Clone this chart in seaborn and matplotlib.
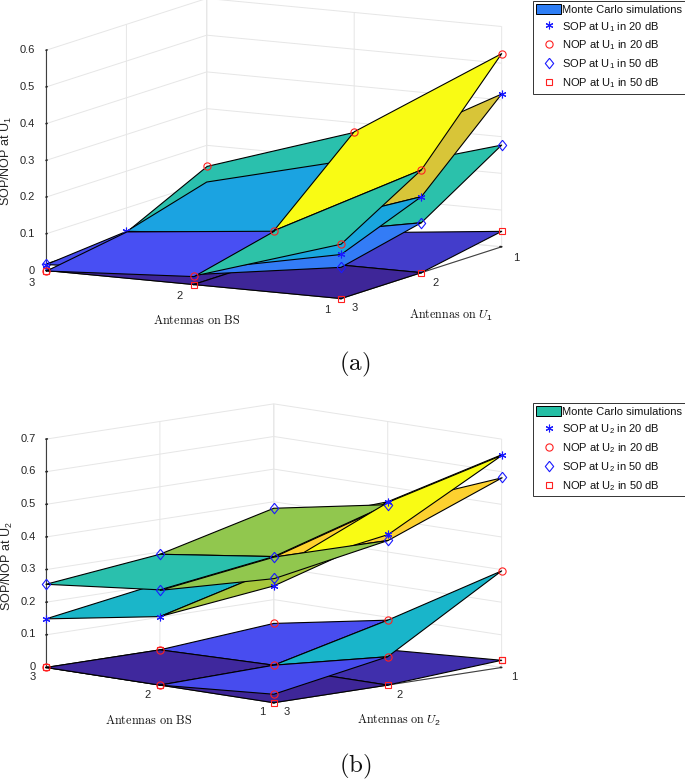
import numpy as np
import matplotlib
matplotlib.use("Agg")
import matplotlib.pyplot as plt
from matplotlib.lines import Line2D
from matplotlib.patches import Patch
import seaborn as sns

sns.set_theme(style="white")
plt.rcParams["font.family"] = ["Liberation Sans", "DejaVu Sans"]
plt.rcParams["mathtext.default"] = "regular"
plt.rcParams["grid.color"] = "#e6e6e6"
plt.rcParams["grid.linewidth"] = 0.7

BS = [1, 2, 3]
USERS = [1, 2, 3]
PARULA = ["#3e2698", "#484ff4", "#2e87f7", "#12b1d6", "#37c897", "#abc739", "#fec338", "#f9fb14"]

# rows: antennas on BS 1,2,3; columns: antennas on user 1,2,3
A_NOP20 = [[.526, .280, .148], [.275, .076, .023], [.144, .036, .000]]
A_SOP20 = [[.416, .207, .120], [.200, .070, .039], [.100, .036, .016]]
A_SOP50 = [[.277, .136, .085], [.160, .061, .027], [.079, .018, .018]]
A_NOP50 = [[.042, .000, .000], [.000, .000, .000], [.000, .000, .000]]

B_NOP20 = [[.296, .087, .026], [.091, .007, .000], [.027, .000, .000]]
B_SOP20 = [[.652, .463, .358], [.454, .300, .210], [.330, .204, .149]]
B_SOP50 = [[.583, .445, .382], [.445, .340, .292], [.380, .293, .255]]
B_NOP50 = [[.022, .000, .000], [.000, .000, .000], [.000, .000, .000]]

ZTICKS_A = [0, .1, .2, .3, .4, .5, .6]
ZTICKS_B = [0, .1, .2, .3, .4, .5, .6, .7]
ZLABELS_A = ["0", "0.1", "0.2", "0.3", "0.4", "0.5", "0.6"]
ZLABELS_B = ["0", "0.1", "0.2", "0.3", "0.4", "0.5", "0.6", "0.7"]

W, H = 685, 780
cmap = sns.blend_palette(PARULA, n_colors=256, as_cmap=True)
STAR = (6, 2, 0)
THIN_DIAMOND = [(0, 1), (.8, 0), (0, -1), (-.8, 0), (0, 1)]
STYLES = {
    "SOP20": dict(marker=STAR, color="#1a1aff", ms=5.5, mew=0.8, mfc="none"),
    "NOP20": dict(marker="o", color="#ff2020", ms=5.2, mew=0.8, mfc="none"),
    "SOP50": dict(marker=THIN_DIAMOND, color="#1a1aff", ms=7.5, mew=0.8, mfc="none"),
    "NOP50": dict(marker="s", color="#ff2020", ms=4.5, mew=0.8, mfc="none"),
}
ALL = (0, 3, 0, 3)


class Panel:
    def __init__(self, x0, bottom, size, az, el, aspect, zmax, zticks, top_value):
        ax = fig.add_axes([x0 / W, 1 - bottom / H, size / W, size / H], projection="3d",
                          proj_type="ortho", computed_zorder=False)
        ax.patch.set_alpha(0)
        ax.view_init(elev=el, azim=az)
        ax.set_box_aspect(aspect)
        ax.set_xlim(1, 3, view_margin=0)
        ax.set_ylim(1, 3, view_margin=0)
        ax.set_zlim(0, zmax, view_margin=0)
        ax.set_xticks(BS)
        ax.set_yticks(USERS)
        ax.set_zticks(zticks)
        ax.set_xticklabels([])
        ax.set_yticklabels([])
        ax.set_zticklabels([])
        for axis in (ax.xaxis, ax.yaxis, ax.zaxis):
            axis.set_pane_color((1, 1, 1, 0))
            axis.pane.set_edgecolor("#e6e6e6")
            axis.pane.set_linewidth(0.7)
            axis.line.set_color("#404040")
            axis.line.set_linewidth(0.8)
            axis._axinfo["tick"].update(inward_factor=0.0, outward_factor=0.07)
        ax.tick_params(colors="#262626")
        ax.zaxis.set_ticks_position("upper")
        self.ax = ax
        self.X, self.Y = np.meshgrid(BS, USERS, indexing="ij")
        self.norm = plt.Normalize(0, top_value)
        self.z = 2

    def surface(self, values, part=ALL):
        r0, r1, c0, c1 = part
        Z = np.array(values)[r0:r1, c0:c1]
        self.ax.plot_surface(self.X[r0:r1, c0:c1], self.Y[r0:r1, c0:c1], Z,
                             facecolors=cmap(self.norm(Z[:-1, :-1])), rstride=1, cstride=1,
                             shade=False, edgecolor="black", linewidth=0.8, zorder=self.z)
        self.z += 1

    def marks(self, name, values, keep=None):
        Z = np.array(values)
        mask = np.ones(Z.shape, bool) if keep is None else np.zeros(Z.shape, bool)
        if keep is not None:
            for rc in keep:
                mask[rc] = True
        self.ax.plot(self.X[mask], self.Y[mask], Z[mask], ls="none", zorder=self.z, **STYLES[name])
        self.z += 1


fig = plt.figure(figsize=(W / 100, H / 100), dpi=100, facecolor="white")

a = Panel(12, 410.4, 510, 118.5, 10.08, (336, 337, 224), 0.6, ZTICKS_A, np.max(A_NOP20))
a.surface(A_NOP50)
a.marks("NOP50", A_NOP50)
a.surface(A_SOP50)
a.marks("SOP50", A_SOP50)
a.surface(A_NOP20, (1, 3, 0, 2))
a.surface(A_SOP20)
a.marks("SOP20", A_SOP20, keep=[(0, 0), (0, 1), (0, 2), (1, 1), (1, 2), (2, 1), (2, 2)])
a.surface(A_NOP20, (0, 2, 0, 3))
a.surface(A_NOP20, (1, 3, 1, 3))
a.marks("NOP20", A_NOP20, keep=[(0, 0), (0, 1), (0, 2), (1, 0), (1, 1), (1, 2), (2, 0), (2, 2)])

b = Panel(19.1, 808, 496, 135, 8.9, (322, 322, 231), 0.7, ZTICKS_B, np.max(B_SOP20))
b.surface(B_NOP50)
b.marks("NOP50", B_NOP50)
b.surface(B_NOP20)
b.marks("NOP20", B_NOP20)
b.surface(B_SOP20)
b.marks("SOP20", B_SOP20, keep=[(0, 2), (1, 2), (2, 2)])
b.surface(B_SOP50, (1, 3, 0, 3))
b.surface(B_SOP50, (0, 2, 0, 2))
b.surface(B_SOP20, (0, 2, 0, 2))
b.surface(B_SOP50, (0, 2, 1, 3))
b.marks("SOP50", B_SOP50)
b.marks("SOP20", B_SOP20, keep=[(0, 0), (0, 1), (1, 0)])
b.marks("NOP50", B_NOP50, keep=[(0, 0)])


def ftext(x, y, s, ha="center", **kw):
    fig.text(x / W, 1 - y / H, s, ha=ha, va="center", **kw)


TICK = dict(fontsize=8, color="#262626")
for v, pos in zip(BS, [(327, 310), (180, 296), (32, 283)]):
    ftext(*pos, str(v), **TICK)
for v, pos in zip(USERS, [(516, 258), (436, 283), (355, 308)]):
    ftext(*pos, str(v), **TICK)
for v, pos in zip(BS, [(262, 712), (148, 695), (33, 677)]):
    ftext(*pos, str(v), **TICK)
for v, pos in zip(USERS, [(514, 677), (400, 695), (287, 712)]):
    ftext(*pos, str(v), **TICK)
for v, s in zip(ZTICKS_A, ZLABELS_A):
    ftext(35, 271 - 368.3 * v, s, ha="right", **TICK)
for v, s in zip(ZTICKS_B, ZLABELS_B):
    ftext(36, 667 - 326 * v, s, ha="right", **TICK)

ftext(6.5, 161, "SOP/NOP at U$_1$", rotation=90, fontsize=9, color="#262626")
ftext(7.5, 566, "SOP/NOP at U$_2$", rotation=90, fontsize=9, color="#262626")
ftext(197, 320, r"$\mathrm{Antennas\ on\ BS}$", fontsize=8.8, math_fontfamily="cm", color="#111111")
ftext(451, 315, r"$\mathrm{Antennas\ on\ }\mathit{U}_1$", fontsize=8.7, math_fontfamily="cm", color="#111111")
ftext(149, 720, r"$\mathrm{Antennas\ on\ BS}$", fontsize=8.8, math_fontfamily="cm", color="#111111")
ftext(399, 720, r"$\mathrm{Antennas\ on\ }\mathit{U}_2$", fontsize=8.7, math_fontfamily="cm", color="#111111")
ftext(355, 364, r"$\mathrm{(a)}$", fontsize=18, math_fontfamily="cm", color="#111111")
ftext(355, 766, r"$\mathrm{(b)}$", fontsize=18, math_fontfamily="cm", color="#111111")


def legend(top, user, patch_color):
    handles = [Patch(facecolor=patch_color, edgecolor="black", linewidth=0.7)]
    labels = ["Monte Carlo simulations"]
    for key, txt in [("SOP20", "SOP at U$_%d$ in 20 dB"), ("NOP20", "NOP at U$_%d$ in 20 dB"),
                     ("SOP50", "SOP at U$_%d$ in 50 dB"), ("NOP50", "NOP at U$_%d$ in 50 dB")]:
        handles.append(Line2D([], [], ls="none", **STYLES[key]))
        labels.append(txt % user)
    leg = fig.legend(handles, labels, loc="upper left", bbox_to_anchor=(533 / W, 1 - top / H),
                     bbox_transform=fig.transFigure, borderaxespad=0, fontsize=8, frameon=True,
                     fancybox=False, edgecolor="#333333", framealpha=1, labelcolor="#111111",
                     handlelength=2.25, handleheight=1.0, handletextpad=0.05, labelspacing=0.46,
                     borderpad=0.3)
    leg.get_frame().set_linewidth(0.7)


legend(0.5, 1, "#2e7ef5")
legend(403, 2, "#25bfa5")

fig.savefig("out.png", dpi=100)
